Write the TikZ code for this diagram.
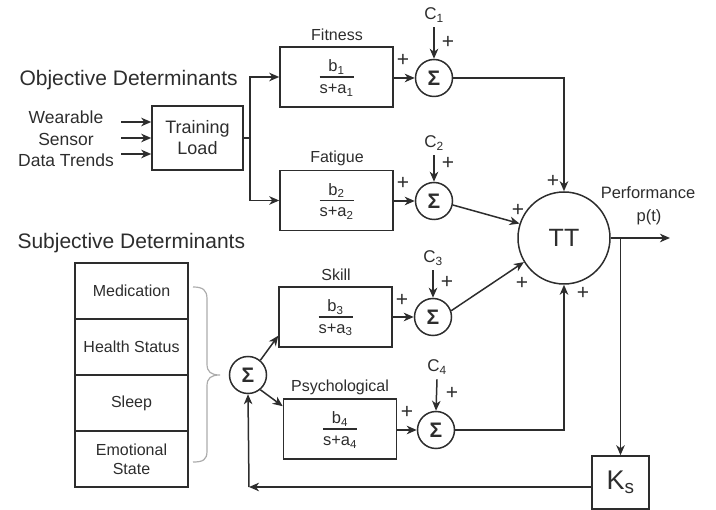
\documentclass[tikz,border=0pt]{standalone}
\usepackage{fontspec}
\setmainfont{Liberation Sans}
\usetikzlibrary{arrows.meta,calc}
\definecolor{ink}{RGB}{45,45,45}
\newcommand\xferfn[2]{%
  \node[frac] (#1num) at ([yshift=10pt]#1.center) {b\textsubscript{#2}};
  \draw[fracline] ([xshift=-17pt]#1.center) -- ([xshift=17pt]#1.center);
  \node[frac] (#1den) at ([yshift=-13pt]#1.center) {s+a\textsubscript{#2}};}
\begin{document}
\begin{tikzpicture}[x=1pt,y=-1pt,
  every node/.style={text=ink},
  ln/.style={draw=ink, line width=1.5pt},
  arr/.style={ln, -{Stealth[length=10pt,width=8.5pt,inset=3pt]}},
  head/.style={font=\fontsize{21}{25}\selectfont},
  lbl/.style={font=\fontsize{16}{19}\selectfont},
  inp/.style={font=\fontsize{17.5}{21.5}\selectfont, align=center},
  frac/.style={font=\fontsize{16.5}{19}\selectfont, inner sep=0},
  fracline/.style={draw=ink, line width=1.3pt},
  pl/.style={font=\fontsize{21}{21}\selectfont, inner sep=0},
  cl/.style={font=\fontsize{17}{17}\selectfont, inner sep=0},
  tf/.style={ln, minimum width=113pt, minimum height=60pt, inner sep=0},
  cell/.style={ln, minimum width=113pt, minimum height=56pt, inner sep=0, align=center, font=\fontsize{16}{19}\selectfont},
  sumc/.style={ln, circle, minimum size=37pt, inner sep=0, font=\bfseries\fontsize{21}{21}\selectfont},
  brc/.style={draw=gray!65, line width=1.2pt}
]
\useasboundingbox (0,0) rectangle (716,510);

% Objective determinants
\node[head, anchor=west] (objt) at (16,80) {Objective Determinants};
\node[inp] (wst) at (66,139) {Wearable\\Sensor\\Data Trends};
\node[ln, minimum width=91pt, minimum height=64pt, inner sep=0, align=center,
      font=\fontsize{18}{21}\selectfont] (tl) at (197.5,138) {Training\\Load};
\coordinate (i1) at (121,122);
\coordinate (i2) at (121,138);
\coordinate (i3) at (121,154);
\draw[arr] (i1) -- (i1 -| tl.west);
\draw[arr] (i2) -- (i2 -| tl.west);
\draw[arr] (i3) -- (i3 -| tl.west);
\coordinate (jn) at (250,138);

% transfer function boxes
\node[tf] (fit) at (336.5,77) {};
\node[tf] (fat) at (336.5,200.5) {};
\node[tf] (skl) at (335.5,317) {};
\node[tf] (psy) at (340,429) {};
\xferfn{fit}{1}
\xferfn{fat}{2}
\xferfn{skl}{3}
\xferfn{psy}{4}
\node[lbl] (fitl) at (337,35) {Fitness};
\node[lbl] (fatl) at (337,158) {Fatigue};
\node[lbl] (skll) at (336,275) {Skill};
\node[lbl] (psyl) at (340,387) {Psychological};

\draw[ln] (tl.east) -- (jn);
\draw[arr] (jn) |- (fit.west);
\draw[arr] (jn) |- (fat.west);

% summing junctions
\node[sumc] (s1) at (434,78) {Σ};
\node[sumc] (s2) at (434,201) {Σ};
\node[sumc] (s3) at (433,317) {Σ};
\node[sumc] (s4) at (436,430) {Σ};
\node[cl] (c1) at (434,15) {C\textsubscript{1}};
\node[cl] (c2) at (434,143) {C\textsubscript{2}};
\node[cl] (c3) at (433,258) {C\textsubscript{3}};
\node[cl] (c4) at (437,367) {C\textsubscript{4}};
\draw[arr] ([yshift=-5pt]c1.south) -- (s1.north);
\draw[arr] ([yshift=-5pt]c2.south) -- (s2.north);
\draw[arr] ([yshift=-5pt]c3.south) -- (s3.north);
\draw[arr] ([yshift=-5pt]c4.south) -- (s4.north);
\draw[arr] (fit.east |- s1.west) -- (s1.west);
\draw[arr] (fat.east |- s2.west) -- (s2.west);
\draw[arr] (skl.east |- s3.west) -- (s3.west);
\draw[arr] (psy.east |- s4.west) -- (s4.west);
\node[pl] (p1a) at (403,60) {+};
\node[pl] (p1b) at (448,42) {+};
\node[pl] (p2a) at (403,183) {+};
\node[pl] (p2b) at (448,163) {+};
\node[pl] (p3a) at (402,300) {+};
\node[pl] (p3b) at (447,282) {+};
\node[pl] (p4a) at (407,412) {+};
\node[pl] (p4b) at (452,393) {+};

% TT block
\node[ln, circle, minimum size=92pt, inner sep=0, font=\fontsize{25}{25}\selectfont] (tt) at (564,238) {TT};
\draw[arr] (s1.east) -- (s1.east -| tt.north) -- (tt.north);
\draw[arr] (s2.-12) -- (tt.162);
\draw[arr] (s3.19) -- (tt.211.5);
\draw[arr] (s4.east) -- (s4.east -| tt.south) -- (tt.south);
\node[pl] (pt1) at (553,181) {+};
\node[pl] (pt2) at (518,210) {+};
\node[pl] (pt3) at (522,283) {+};
\node[pl] (pt4) at (583,293) {+};

% output
\coordinate (out) at (670,238);
\draw[arr] (tt.east) -- (out);
\node[font=\fontsize{16.5}{19}\selectfont, inner sep=0] (perf) at (648,193) {Performance};
\node[font=\fontsize{16.5}{19}\selectfont, inner sep=0] (pt) at (649,217) {p(t)};

% feedback
\node[ln, minimum width=57pt, minimum height=53pt, inner sep=0, font=\fontsize{27}{27}\selectfont] (ks) at (620.5,482.5) {K\textsubscript{s}};
\coordinate (fb) at (ks.north |- tt.east);
\draw[arr] (fb) -- (ks.north);
\node[sumc] (s5) at (248,375) {Σ};
\coordinate (cor) at (249,487);
\draw[arr] (ks.west |- cor) -- (cor);
\draw[arr] (cor) -- (s5.south);
\draw[arr] (s5.50) -- ([yshift=12pt]skl.south west);
\draw[arr] (s5.-50) -- ([yshift=-8pt]psy.north west);

% subjective determinants
\node[head, anchor=west] (subt) at (14,243) {Subjective Determinants};
\node[cell] (med) at (131.5,291) {Medication};
\node[cell] (hs) at (131.5,347) {Health Status};
\node[cell] (slp) at (131.5,403) {Sleep};
\node[cell] (emo) at (131.5,459) {Emotional\\State};
\draw[brc] (193,287) .. controls (203,287) and (207,290) .. (207,299)
  -- (207,364) .. controls (207,372) and (211,375) .. (220,375)
  .. controls (211,375) and (207,378) .. (207,386)
  -- (207,451) .. controls (207,460) and (203,462) .. (193,462);
\end{tikzpicture}
\end{document}
